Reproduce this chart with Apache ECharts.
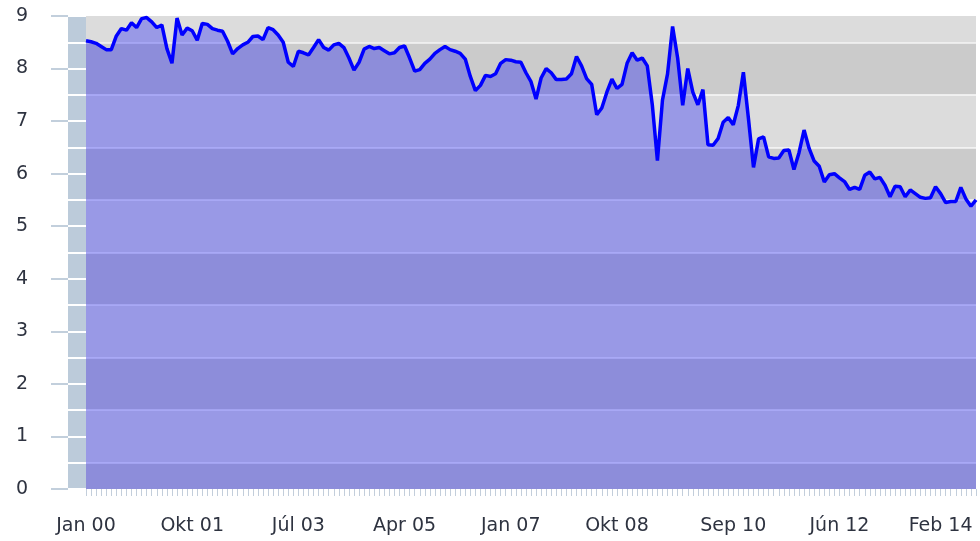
<!DOCTYPE html>
<html>
<head>
<meta charset="utf-8">
<script src="https://cdn.jsdelivr.net/npm/echarts/dist/echarts.min.js"></script>
<style>
  html, body { margin: 0; padding: 0; background: #fff; }
  #chart { width: 980px; height: 541px; }
</style>
</head>
<body>
<div id="chart"></div>
<script>
  // mesačné kategórie Jan 00 .. Sep 14
  const monthNames = ['Jan', 'Feb', 'Mar', 'Apr', 'Máj', 'Jún', 'Júl', 'Aug', 'Sep', 'Okt', 'Nov', 'Dec']
  const categories = []
  for (let y = 0; y < 15; y++) {
    for (let m = 0; m < 12; m++) {
      if (categories.length < 177) categories.push(monthNames[m] + ' ' + String(y).padStart(2, '0'))
    }
  }
  // popisky osi x, ktoré sú zobrazené
  const labelMonths = ['Jan 00', 'Okt 01', 'Júl 03', 'Apr 05', 'Jan 07', 'Okt 08', 'Sep 10', 'Jún 12', 'Feb 14']
  // hodnoty (odčítané z grafu)
  const values = [
    8.53, 8.51, 8.48, 8.42, 8.36, 8.36, 8.62, 8.76, 8.73, 8.87, 8.78, 8.95, 8.97, 8.89, 8.78, 8.83, 8.38, 8.10, 8.96, 8.64,
    8.77, 8.72, 8.54, 8.86, 8.84, 8.76, 8.73, 8.71, 8.52, 8.28,
    8.38, 8.45, 8.50, 8.61, 8.62, 8.55, 8.78, 8.74, 8.64, 8.50, 8.12, 8.04, 8.33, 8.30, 8.26, 8.40, 8.55, 8.40, 8.35, 8.45,
    8.48, 8.40, 8.20, 7.97, 8.12, 8.37, 8.42, 8.38, 8.40, 8.34,
    8.28, 8.30, 8.40, 8.43, 8.20, 7.95, 7.98, 8.10, 8.18, 8.29, 8.36, 8.42, 8.36, 8.33, 8.29, 8.18, 7.85, 7.58, 7.68, 7.87,
    7.85, 7.90, 8.10, 8.17, 8.16, 8.13, 8.12, 7.92, 7.75, 7.42,
    7.82, 8.00, 7.92, 7.79, 7.79, 7.80, 7.90, 8.23, 8.05, 7.81, 7.70, 7.12, 7.25, 7.55, 7.80, 7.62, 7.70, 8.10, 8.30, 8.16,
    8.20, 8.05, 7.30, 6.25, 7.40, 7.90, 8.80, 8.20, 7.30,
    8.00, 7.55, 7.31, 7.60, 6.55, 6.54, 6.67, 6.98, 7.07, 6.93, 7.30, 7.93, 7.05, 6.12, 6.66, 6.70, 6.32, 6.29, 6.30, 6.44,
    6.45, 6.08, 6.40, 6.83, 6.48, 6.24, 6.14, 5.84, 5.98, 6.00,
    5.92, 5.85, 5.70, 5.74, 5.70, 5.97, 6.03, 5.90, 5.93, 5.78, 5.56, 5.76, 5.75, 5.56, 5.69, 5.62, 5.55, 5.53, 5.54, 5.75,
    5.62, 5.45, 5.47, 5.47, 5.74, 5.52, 5.38, 5.50
  ]
  const yMin = 0
  const yMax = 9

  const font = 'DejaVu Sans'
  const chart = echarts.init(document.getElementById('chart'))
  chart.setOption({
    animation: false,
    grid: { left: 86, right: 4, top: 16, bottom: 52 },
    xAxis: {
      type: 'category',
      boundaryGap: false,
      data: categories,
      axisLine: { show: false },
      axisTick: { show: true, interval: 0, length: 7, lineStyle: { color: '#c3cedb', width: 1 } },
      axisLabel: {
        interval: (i, v) => labelMonths.includes(v),
        color: '#2e3340',
        fontFamily: font,
        fontSize: 19,
        margin: 28
      },
      splitLine: { show: false }
    },
    yAxis: [
      { // popisky + modrošedý pás
        type: 'value',
        min: yMin,
        max: yMax,
        interval: 1,
        offset: 9,
        axisLine: { show: true, lineStyle: { color: '#bccbda', width: 18, cap: 'butt' } },
        axisTick: { show: true, length: 26, lineStyle: { color: '#c2cfdc', width: 2 } },
        axisLabel: { color: '#2e3340', fontFamily: font, fontSize: 19, margin: 49 },
        splitLine: { show: false }
      },
      { // pruhy pozadia a biele čiary
        type: 'value',
        min: yMin,
        max: yMax,
        interval: 0.5,
        position: 'left',
        offset: 18,
        z: 1,
        axisLine: { show: false },
        axisLabel: { show: false },
        axisTick: { show: true, inside: true, length: 18, lineStyle: { color: '#ffffff', width: 2 } },
        splitLine: { show: true, lineStyle: { color: ['rgba(255,255,255,0)', 'rgba(255,255,255,0.6)'], width: 2 } },
        splitArea: { show: true, areaStyle: { color: ['#cbcbcb', '#dcdcdc', '#dcdcdc', '#cbcbcb'] } }
      }
    ],
    series: [
      {
        type: 'line',
        yAxisIndex: 0,
        data: values,
        showSymbol: false,
        symbol: 'none',
        lineStyle: { color: '#0000ff', width: 3.5 },
        areaStyle: { color: '#0000ff', opacity: 0.3, origin: 'start' },
        z: 2
      }
    ]
  })
</script>
</body>
</html>
